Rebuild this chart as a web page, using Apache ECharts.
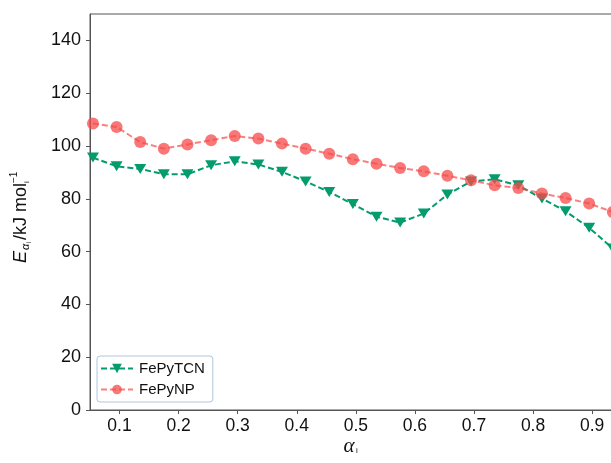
<!DOCTYPE html>
<html>
<head>
<meta charset="utf-8">
<script src="https://cdn.jsdelivr.net/npm/echarts@6/dist/echarts.min.js"></script>
<style>
	html, body { margin: 0; padding: 0; background: #fff; overflow: hidden; }
	#chart { width: 611px; height: 463px; }
</style>
</head>
<body>
<div id="chart"></div>
<script>
// conversion values (alpha_i)
var alphaVals = [0.055, 0.095, 0.135, 0.175, 0.215, 0.255, 0.295, 0.335, 0.375, 0.415, 0.455, 0.495,
	0.535, 0.575, 0.615, 0.655, 0.695, 0.735, 0.775, 0.815, 0.855, 0.895, 0.935];
// activation energy, kJ/mol
var tcnVals = [95.6, 92.3, 91.3, 89.3, 89.3, 92.7, 94.2, 93.0, 90.2, 86.6, 82.6, 78.0,
	73.2, 71.0, 74.4, 81.6, 86.6, 87.4, 85.1, 80.1, 75.3, 69.0, 61.2];
var npVals = [108.5, 107.2, 101.5, 99.0, 100.6, 102.2, 103.8, 102.8, 100.9, 99.0, 97.1, 95.0,
	93.3, 91.7, 90.4, 88.7, 87.0, 85.1, 84.1, 82.0, 80.3, 78.2, 75.0];
var seriesNames = ['FePyTCN', 'FePyNP'];
var xTicks = [0.1, 0.2, 0.3, 0.4, 0.5, 0.6, 0.7, 0.8, 0.9];
var yTicks = [0, 20, 40, 60, 80, 100, 120, 140];

function pairs(xs, ys) {
	return xs.map(function (x, i) { return [x, ys[i]]; });
}

var font = 'Liberation Sans, Arial, sans-serif';
var ec = echarts.init(document.getElementById('chart'));
var option = {
	animation: false,
	grid: {
		left: 90, top: 14, width: 541, height: 396,
		outerBoundsMode: 'none',
		containLabel: false,
		show: true, borderColor: '#555', borderWidth: 1
	},
	legend: {
		orient: 'vertical',
		left: 97, top: 356,
		data: seriesNames,
		padding: [5, 8, 5, 3],
		itemGap: 6,
		itemWidth: 32,
		itemHeight: 12,
		backgroundColor: '#fff',
		borderColor: '#afc6da',
		borderWidth: 1,
		borderRadius: 3,
		textStyle: { fontFamily: font, fontSize: 15, color: '#111', padding: [0, 0, 0, 1] }
	},
	xAxis: {
		type: 'value',
		min: 0.05,
		max: 0.9658,
		splitLine: { show: false },
		axisLine: { onZero: false, lineStyle: { color: '#555', width: 1 } },
		axisTick: { length: 4, lineStyle: { color: '#555' }, customValues: xTicks },
		axisLabel: {
			customValues: xTicks,
			margin: 7,
			fontFamily: font, fontSize: 17.5, color: '#111',
			formatter: function (v) { return v.toFixed(1); }
		}
	},
	yAxis: {
		type: 'value',
		min: 0,
		max: 150,
		splitLine: { show: false },
		axisLine: { show: true, lineStyle: { color: '#555', width: 1 } },
		axisTick: { show: true, length: 4, lineStyle: { color: '#555' }, customValues: yTicks },
		axisLabel: {
			customValues: yTicks,
			margin: 9,
			fontFamily: font, fontSize: 18, color: '#111'
		}
	},
	series: [
		{
			name: seriesNames[0],
			type: 'line',
			data: pairs(alphaVals, tcnVals),
			symbol: 'triangle',
			symbolRotate: 180,
			symbolSize: [12, 10],
			showAllSymbol: true,
			color: '#049b6d',
			lineStyle: { width: 2, type: [6, 3], color: '#049b6d' },
			itemStyle: { color: '#049b6d' },
			z: 2
		},
		{
			name: seriesNames[1],
			type: 'line',
			data: pairs(alphaVals, npVals),
			symbol: 'circle',
			symbolSize: 12,
			showAllSymbol: true,
			color: '#f64a4a',
			lineStyle: { width: 2, type: [6, 3], color: '#f64a4a', opacity: 0.7 },
			itemStyle: { color: '#f64a4a', opacity: 0.75 },
			z: 3
		}
	],
	graphic: [
		{
			type: 'group',
			x: 21, y: 263,
			rotation: Math.PI / 2,
			children: [
				{ type: 'text', x: 0, y: 0, style: { text: 'E', font: 'italic 18px ' + font, fill: '#111', verticalAlign: 'middle' } },
				{ type: 'text', x: 13, y: 5, style: { text: '\u03b1', font: 'italic 11px ' + font, fill: '#111', verticalAlign: 'middle' } },
				{ type: 'text', x: 19.5, y: 8, style: { text: 'i', font: '7px ' + font, fill: '#111', verticalAlign: 'middle' } },
				{ type: 'text', x: 23, y: 0, style: { text: '/kJ mol', font: '18px ' + font, fill: '#111', verticalAlign: 'middle' } },
				{ type: 'text', x: 80, y: 6, style: { text: 'i', font: '8px ' + font, fill: '#111', verticalAlign: 'middle' } },
				{ type: 'text', x: 80, y: -7, style: { text: '\u22121', font: '10px ' + font, fill: '#111', verticalAlign: 'middle' } }
			]
		},
		{
			type: 'group',
			x: 349, y: 446,
			children: [
				{ type: 'text', x: 0, y: 0, style: { text: '\u03b1', font: 'italic 21px Liberation Serif, DejaVu Serif, serif', fill: '#111', align: 'center', verticalAlign: 'middle' } },
				{ type: 'text', x: 7, y: 5, style: { text: 'i', font: '8px ' + font, fill: '#111', verticalAlign: 'middle' } }
			]
		}
	]
};
ec.setOption(option);
</script>
</body>
</html>
